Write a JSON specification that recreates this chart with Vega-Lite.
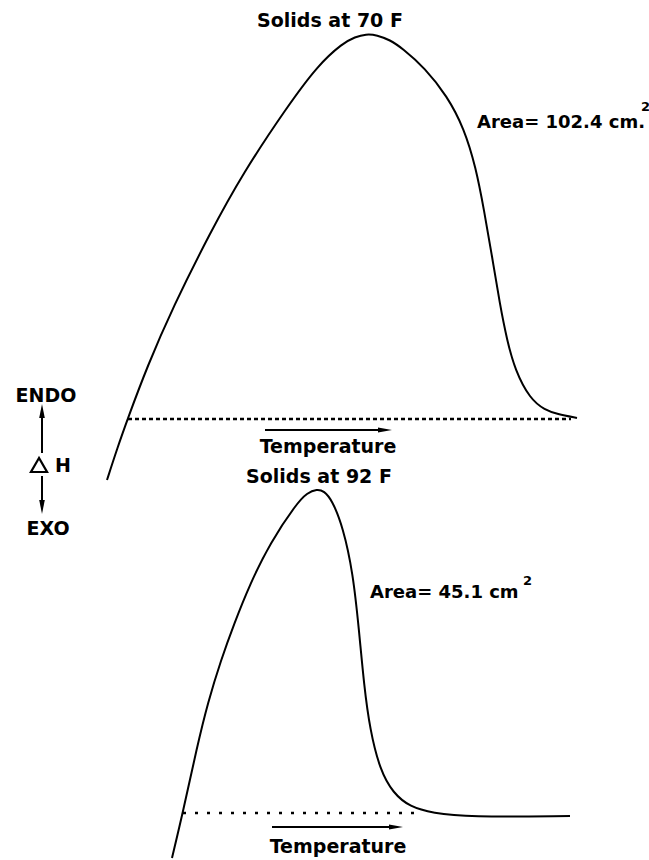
{
  "$schema": "https://vega.github.io/schema/vega-lite/v6.json",
  "width": 649,
  "height": 860,
  "padding": 0,
  "autosize": {"type": "none"},
  "background": "white",
  "config": {"view": {"stroke": null}},
  "encoding": {
    "x": {"field": "x", "type": "quantitative", "scale": {"domain": [0, 649]}, "axis": null},
    "y": {"field": "y", "type": "quantitative", "scale": {"domain": [0, 860], "reverse": true}, "axis": null}
  },
  "layer": [
    {
      "data": {"values": [
        {"curve": "70F", "x": 107, "y": 480}, {"curve": "70F", "x": 117, "y": 449}, {"curve": "70F", "x": 128, "y": 418},
        {"curve": "70F", "x": 147, "y": 367}, {"curve": "70F", "x": 173, "y": 307}, {"curve": "70F", "x": 210, "y": 233},
        {"curve": "70F", "x": 243, "y": 173}, {"curve": "70F", "x": 287, "y": 107}, {"curve": "70F", "x": 318, "y": 65},
        {"curve": "70F", "x": 343, "y": 43}, {"curve": "70F", "x": 355, "y": 37}, {"curve": "70F", "x": 366, "y": 34},
        {"curve": "70F", "x": 377, "y": 35}, {"curve": "70F", "x": 390, "y": 40}, {"curve": "70F", "x": 402, "y": 48},
        {"curve": "70F", "x": 425, "y": 68}, {"curve": "70F", "x": 447, "y": 96}, {"curve": "70F", "x": 464, "y": 128},
        {"curve": "70F", "x": 476, "y": 168}, {"curve": "70F", "x": 484, "y": 210}, {"curve": "70F", "x": 492, "y": 256},
        {"curve": "70F", "x": 500, "y": 305}, {"curve": "70F", "x": 507, "y": 340}, {"curve": "70F", "x": 515, "y": 370},
        {"curve": "70F", "x": 530, "y": 399}, {"curve": "70F", "x": 545, "y": 410}, {"curve": "70F", "x": 557, "y": 414},
        {"curve": "70F", "x": 577, "y": 418},
        {"curve": "92F", "x": 172, "y": 858}, {"curve": "92F", "x": 183, "y": 812}, {"curve": "92F", "x": 197, "y": 747},
        {"curve": "92F", "x": 208, "y": 702}, {"curve": "92F", "x": 221, "y": 660}, {"curve": "92F", "x": 234, "y": 624},
        {"curve": "92F", "x": 250, "y": 584}, {"curve": "92F", "x": 270, "y": 543}, {"curve": "92F", "x": 297, "y": 503},
        {"curve": "92F", "x": 307, "y": 493}, {"curve": "92F", "x": 317, "y": 489}, {"curve": "92F", "x": 324, "y": 491},
        {"curve": "92F", "x": 332, "y": 500}, {"curve": "92F", "x": 343, "y": 527}, {"curve": "92F", "x": 353, "y": 573},
        {"curve": "92F", "x": 359, "y": 630}, {"curve": "92F", "x": 364, "y": 685}, {"curve": "92F", "x": 370, "y": 730},
        {"curve": "92F", "x": 380, "y": 770}, {"curve": "92F", "x": 393, "y": 793}, {"curve": "92F", "x": 410, "y": 807},
        {"curve": "92F", "x": 433, "y": 813}, {"curve": "92F", "x": 467, "y": 817}, {"curve": "92F", "x": 570, "y": 816}
      ]},
      "mark": {"type": "line", "color": "black", "strokeWidth": 2, "interpolate": "basis"},
      "encoding": {"detail": {"field": "curve"}}
    },
    {
      "data": {"values": [{"x": 128, "x2": 571, "y": 419}]},
      "mark": {"type": "rule", "color": "black", "strokeWidth": 2.5, "strokeDash": [4, 3]},
      "encoding": {"x2": {"field": "x2"}}
    },
    {
      "data": {"values": [{"x": 183, "x2": 423, "y": 813}]},
      "mark": {"type": "rule", "color": "black", "strokeWidth": 2.5, "strokeDash": [3, 9]},
      "encoding": {"x2": {"field": "x2"}}
    },
    {
      "data": {"values": [
        {"x": 265, "x2": 385, "y": 430, "y2": 430},
        {"x": 272, "x2": 396, "y": 827, "y2": 827},
        {"x": 42, "x2": 42, "y": 453, "y2": 411},
        {"x": 42, "x2": 42, "y": 476, "y2": 507}
      ]},
      "mark": {"type": "rule", "color": "black", "strokeWidth": 2},
      "encoding": {"x2": {"field": "x2"}, "y2": {"field": "y2"}}
    },
    {
      "data": {"values": [
        {"x": 385, "y": 430, "shape": "M-1,-0.35L1,0L-1,0.35Z"},
        {"x": 396, "y": 827, "shape": "M-1,-0.35L1,0L-1,0.35Z"},
        {"x": 42, "y": 411, "shape": "M-0.4,1L0,-1L0.4,1Z"},
        {"x": 42, "y": 507, "shape": "M-0.4,-1L0,1L0.4,-1Z"}
      ]},
      "mark": {"type": "point", "filled": true, "color": "black", "opacity": 1, "size": 196},
      "encoding": {"shape": {"field": "shape", "scale": null}}
    },
    {
      "data": {"values": [{"x": 39, "y": 465}]},
      "mark": {"type": "point", "shape": "triangle-up", "filled": false, "color": "black", "strokeWidth": 2.2, "size": 260, "opacity": 1}
    },
    {
      "data": {"values": [
        {"x": 330, "y": 27, "label": "Solids at 70 F"},
        {"x": 319, "y": 483, "label": "Solids at 92 F"},
        {"x": 328, "y": 453, "label": "Temperature"},
        {"x": 338, "y": 853, "label": "Temperature"},
        {"x": 46, "y": 402, "label": "ENDO"},
        {"x": 48, "y": 535, "label": "EXO"}
      ]},
      "mark": {"type": "text", "font": "DejaVu Sans", "fontWeight": "bold", "fontSize": 19, "align": "center", "baseline": "alphabetic", "color": "black"},
      "encoding": {"text": {"field": "label"}}
    },
    {
      "data": {"values": [
        {"x": 477, "y": 128, "label": "Area= 102.4 cm.", "size": 18},
        {"x": 370, "y": 598, "label": "Area= 45.1 cm", "size": 18},
        {"x": 55, "y": 472, "label": "H", "size": 19},
        {"x": 641, "y": 111, "label": "2", "size": 13},
        {"x": 523, "y": 585, "label": "2", "size": 13}
      ]},
      "mark": {"type": "text", "font": "DejaVu Sans", "fontWeight": "bold", "align": "left", "baseline": "alphabetic", "color": "black"},
      "encoding": {"text": {"field": "label"}, "size": {"field": "size", "type": "quantitative", "scale": null}}
    }
  ]
}
